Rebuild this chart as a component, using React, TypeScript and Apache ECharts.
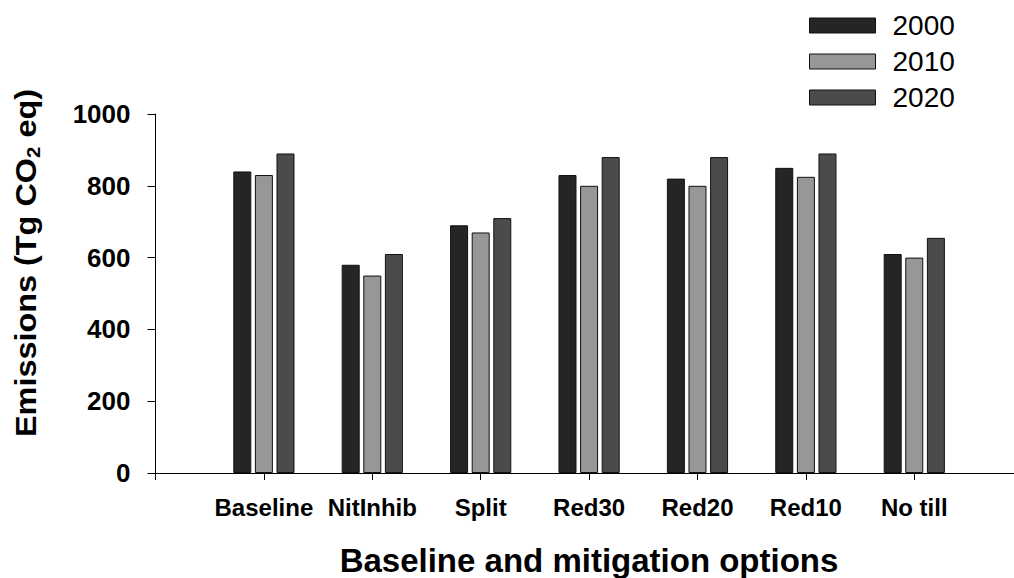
import React, { useEffect, useRef } from "react";
import * as echarts from "echarts";

const categories = ["Baseline", "NitInhib", "Split", "Red30", "Red20", "Red10", "No till"];
const years = ["2000", "2010", "2020"];
const values2000 = [840, 580, 690, 830, 820, 850, 610];
const values2010 = [830, 550, 670, 800, 800, 825, 600];
const values2020 = [890, 610, 710, 880, 880, 890, 655];
const yTicks = [0, 200, 400, 600, 800, 1000];
const colors = ["#252525", "#979797", "#4b4b4b"];

const FONT = "'Liberation Sans', Arial, sans-serif";

export default function App() {
  const ref = useRef<HTMLDivElement>(null);

  useEffect(() => {
    if (!ref.current) return;
    const chart = echarts.init(ref.current, null, { renderer: "svg" });
    const seriesValues = [values2000, values2010, values2020];
    const positions = categories.map((_, i) => i + 1);
    const option: any = {
      animation: false,
      backgroundColor: "#ffffff",
      grid: { left: 155.5, top: 114, right: 0, bottom: 105, containLabel: false },
      legend: {
        orient: "vertical",
        left: 809,
        top: 11.5,
        padding: 0,
        itemWidth: 66,
        itemHeight: 15,
        itemGap: 8,
        icon: "rect",
        data: years,
        itemStyle: { borderColor: "#111111", borderWidth: 1 },
        textStyle: {
          fontFamily: FONT,
          fontSize: 28,
          lineHeight: 28,
          color: "#000",
          padding: [0, 0, 0, 12],
        },
      },
      xAxis: {
        type: "value",
        min: 0,
        max: 7.92,
        splitLine: { show: false },
        axisLine: { show: true, lineStyle: { color: "#000", width: 1 } },
        axisTick: {
          show: true,
          length: 7,
          customValues: [0, ...positions],
          lineStyle: { color: "#000", width: 1 },
        },
        axisLabel: {
          customValues: positions,
          formatter: (v: number) => categories[Math.round(v) - 1] ?? "",
          fontFamily: FONT,
          fontSize: 24,
          fontWeight: "bold",
          color: "#000",
          margin: 22,
        },
      },
      yAxis: {
        type: "value",
        min: yTicks[0],
        max: yTicks[yTicks.length - 1],
        interval: 200,
        splitLine: { show: false },
        axisLine: { show: true, lineStyle: { color: "#000", width: 1 } },
        axisTick: { show: true, length: 8, lineStyle: { color: "#000", width: 1 } },
        axisLabel: {
          formatter: (v: number) => String(v),
          fontFamily: FONT,
          fontSize: 26,
          fontWeight: "bold",
          color: "#000",
          margin: 25,
        },
      },
      series: years.map((y, si) => ({
        name: y,
        type: "bar",
        barWidth: 18,
        barGap: "20%",
        data: seriesValues[si].map((v, i) => [positions[i], v]),
        itemStyle: { color: colors[si], borderColor: "#111111", borderWidth: 1 },
      })),
      graphic: [
        {
          type: "text",
          x: 589,
          y: 560,
          style: {
            text: "Baseline and mitigation options",
            fontFamily: FONT,
            fontSize: 33,
            fontWeight: "bold",
            fill: "#000",
            textAlign: "center",
            textVerticalAlign: "middle",
          },
        },
        {
          type: "text",
          x: 26,
          y: 263,
          rotation: Math.PI / 2,
          scaleX: 1.08,
          style: {
            text: "{a|Emissions (Tg CO}{s|2}{a| eq)}",
            textAlign: "center",
            textVerticalAlign: "middle",
            fill: "#000",
            rich: {
              a: { fontFamily: FONT, fontSize: 30, fontWeight: "bold", lineHeight: 34, fill: "#000" },
              s: {
                fontFamily: FONT,
                fontSize: 19,
                fontWeight: "bold",
                lineHeight: 20,
                padding: [14, 0, 0, 0],
                fill: "#000",
              },
            },
          },
        },
      ],
    };
    chart.setOption(option);
    return () => chart.dispose();
  }, []);

  return (
    <div
      ref={ref}
      style={{ position: "fixed", left: 0, top: 0, width: 1014, height: 578, background: "#fff" }}
    />
  );
}
